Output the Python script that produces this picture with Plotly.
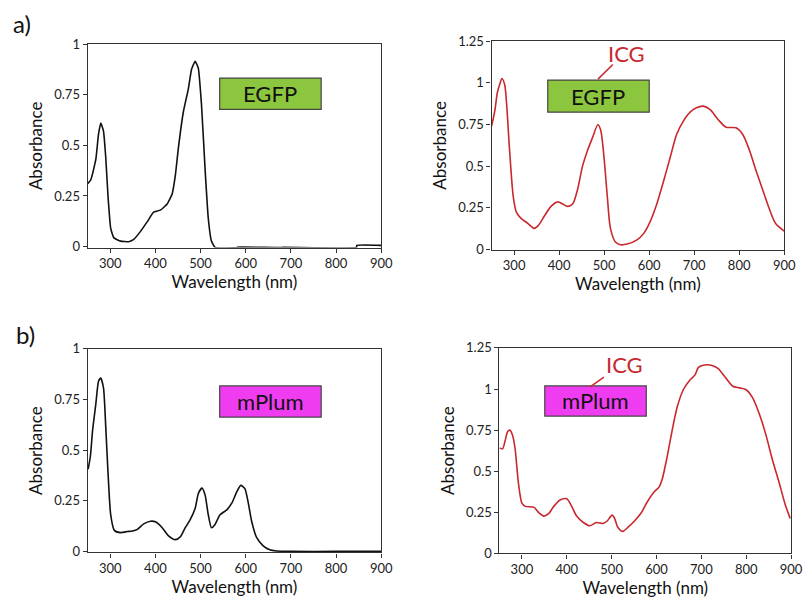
import plotly.graph_objects as go

W, H = 809, 614

# ---------------- data ----------------
egfp_wl = [250, 257, 268, 274, 279, 285, 290, 295, 301, 308, 323, 341, 352, 367, 382, 396, 411, 426, 437, 444,
           451, 462, 473, 480, 488, 495, 502, 510, 517, 524, 532, 580, 581, 680, 681, 845, 846, 900]
egfp_abs = [0.31, 0.33, 0.43, 0.555, 0.61, 0.57, 0.44, 0.25, 0.09, 0.043, 0.027, 0.024, 0.035, 0.075, 0.123, 0.17,
            0.18, 0.21, 0.26, 0.35, 0.49, 0.667, 0.78, 0.875, 0.915, 0.88, 0.70, 0.38, 0.14, 0.027, -0.004, -0.005,
            -0.003, -0.005, -0.004, -0.004, 0.006, 0.006]

egfp_icg_wl = [250, 257, 263, 268, 273, 279, 283, 290, 298, 305, 316, 331, 344, 353, 368, 382, 397, 408, 419, 430,
               441, 452, 463, 474, 486, 492, 499, 507, 514, 525, 536, 551, 573, 588, 602, 617, 632, 647, 661, 676,
               691, 705, 720, 735, 753, 771, 793, 808, 823, 837, 852, 867, 881, 900]
egfp_icg_abs = [0.74, 0.83, 0.944, 0.99, 1.026, 0.99, 0.886, 0.594, 0.32, 0.224, 0.185, 0.156, 0.127, 0.142, 0.204,
                0.259, 0.286, 0.273, 0.259, 0.273, 0.36, 0.50, 0.594, 0.67, 0.748, 0.72, 0.574, 0.32, 0.127, 0.045,
                0.029, 0.033, 0.058, 0.097, 0.166, 0.273, 0.41, 0.555, 0.69, 0.77, 0.824, 0.85, 0.86, 0.84, 0.78,
                0.734, 0.73, 0.69, 0.594, 0.477, 0.36, 0.243, 0.156, 0.111]

mplum_wl = [251, 256, 261, 268, 274, 279, 285, 290, 295, 301, 309, 323, 338, 349, 360, 374, 389, 400, 415, 429,
            444, 455, 466, 477, 488, 495, 503, 510, 517, 524, 532, 543, 558, 569, 580, 589, 598, 605, 613, 624,
            638, 653, 668, 700, 800, 900]
mplum_abs = [0.406, 0.47, 0.60, 0.727, 0.84, 0.856, 0.807, 0.615, 0.39, 0.18, 0.104, 0.093, 0.098, 0.101, 0.109,
             0.136, 0.149, 0.146, 0.117, 0.077, 0.058, 0.072, 0.117, 0.157, 0.213, 0.286, 0.313, 0.278, 0.181,
             0.117, 0.133, 0.181, 0.205, 0.238, 0.294, 0.326, 0.31, 0.246, 0.149, 0.069, 0.029, 0.008, 0.002,
             0.0, 0.0, 0.0]

mplum_icg_wl = [250, 257, 263, 268, 273, 279, 285, 292, 300, 308, 327, 338, 349, 360, 371, 386, 400, 411, 422, 437,
                451, 466, 481, 490, 501, 506, 514, 525, 536, 551, 566, 580, 595, 606, 613, 624, 635, 646, 660, 675,
                686, 693, 704, 722, 737, 752, 770, 785, 799, 814, 829, 843, 858, 873, 887, 898]
mplum_icg_abs = [0.642, 0.636, 0.69, 0.74, 0.75, 0.72, 0.632, 0.434, 0.306, 0.286, 0.28, 0.247, 0.227, 0.243, 0.286,
                 0.326, 0.332, 0.286, 0.227, 0.188, 0.168, 0.188, 0.182, 0.197, 0.233, 0.217, 0.158, 0.134, 0.158,
                 0.197, 0.247, 0.316, 0.375, 0.405, 0.454, 0.592, 0.75, 0.889, 0.997, 1.056, 1.086, 1.13, 1.145,
                 1.145, 1.125, 1.076, 1.017, 1.007, 0.997, 0.948, 0.85, 0.73, 0.573, 0.434, 0.296, 0.213]

x_ticks = [300, 400, 500, 600, 700, 800, 900]
y_ticks_1 = [0, 0.25, 0.5, 0.75, 1]
y_ticks_125 = [0, 0.25, 0.5, 0.75, 1, 1.25]

# ---------------- layout helpers ----------------
def px(x):
    return x / W

def py(y):
    return 1 - y / H

FONT = "Lato, 'Open Sans', sans-serif"
BLACK = "#111111"
RED = "#C8282E"

fig = go.Figure()

panels = [
    # (x, y, color, xdomain px, ydomain px (top,bottom), yrange, yticks, smoothing)
    (egfp_wl, egfp_abs, BLACK, (89, 387), (37, 246), [-0.005, 1.0], y_ticks_1, 0.4),
    (egfp_icg_wl, egfp_icg_abs, RED, (499, 796), (34, 248), [0, 1.25], y_ticks_125, 0.8),
    (mplum_wl, mplum_abs, BLACK, (89, 387), (350, 559), [-0.005, 1.0], y_ticks_1, 0.6),
    (mplum_icg_wl, mplum_icg_abs, RED, (507, 803), (349, 560), [0, 1.25], y_ticks_125, 0.7),
]

for i, (xs, ys, col, xd, yd, yr, yt, sm) in enumerate(panels, start=1):
    suffix = "" if i == 1 else str(i)
    fig.add_trace(go.Scatter(x=xs, y=ys, mode="lines",
                             line=dict(color=col, width=1.6, shape="spline", smoothing=sm),
                             xaxis="x" + suffix, yaxis="y" + suffix, showlegend=False))
    axis_common = dict(showline=True, linecolor="#333333", linewidth=1.2, mirror=True,
                       showgrid=False, zeroline=False, ticks="outside", ticklen=4,
                       tickcolor="#333333", tickfont=dict(family=FONT, size=13, color="#222222"))
    fig.layout["xaxis" + suffix] = dict(
        axis_common, domain=[px(xd[0]), px(xd[1])], range=[250, 900], tickvals=x_ticks,
        anchor="y" + suffix,
        title=dict(text="Wavelength (nm)", font=dict(family=FONT, size=17, color="#111111"), standoff=4))
    fig.layout["yaxis" + suffix] = dict(
        axis_common, domain=[py(yd[1]), py(yd[0])], range=yr, tickvals=yt,
        anchor="x" + suffix,
        title=dict(text="Absorbance", font=dict(family=FONT, size=17, color="#111111"), standoff=7))

# label boxes
boxes = [
    ("EGFP", "#8CC63F", (223, 326), (72, 104)),
    ("EGFP", "#8CC63F", (556, 659), (74, 107)),
    ("mPlum", "#F03CF0", (223, 326), (388, 420)),
    ("mPlum", "#F03CF0", (553, 656), (388, 419)),
]
for text, col, (x0, x1), (y0, y1) in boxes:
    fig.add_shape(type="rect", xref="paper", yref="paper", x0=px(x0), x1=px(x1), y0=py(y1), y1=py(y0),
                  fillcolor=col, line=dict(color="#444444", width=1.2))
    fig.add_annotation(text=text, xref="paper", yref="paper", x=px((x0 + x1) / 2), y=py((y0 + y1) / 2),
                       showarrow=False, font=dict(family=FONT, size=22, color="#111111"),
                       xanchor="center", yanchor="middle")

# ICG labels with leader lines
icg = [((636, 47), (622, 58), (607, 73)), ((634, 366), (613, 379), (599, 389))]
for (cx, cy), (lx0, ly0), (lx1, ly1) in icg:
    fig.add_annotation(text="ICG", xref="paper", yref="paper", x=px(cx), y=py(cy), showarrow=False,
                       font=dict(family=FONT, size=22, color=RED), xanchor="center", yanchor="middle")
    fig.add_shape(type="line", xref="paper", yref="paper", x0=px(lx0), y0=py(ly0), x1=px(lx1), y1=py(ly1),
                  line=dict(color=RED, width=1.5))

# panel letters
fig.add_annotation(text="a)", xref="paper", yref="paper", x=px(22), y=py(16), showarrow=False,
                   font=dict(family=FONT, size=24, color="#111111"), xanchor="center", yanchor="middle")
fig.add_annotation(text="b)", xref="paper", yref="paper", x=px(26), y=py(335), showarrow=False,
                   font=dict(family=FONT, size=24, color="#111111"), xanchor="center", yanchor="middle")

fig.update_layout(width=W, height=H, margin=dict(l=0, r=0, t=0, b=0),
                  paper_bgcolor="white", plot_bgcolor="white", showlegend=False)

fig.write_html("out.html", config={"displayModeBar": False},
               post_script="document.body.style.margin='0';document.body.style.padding='0';")
